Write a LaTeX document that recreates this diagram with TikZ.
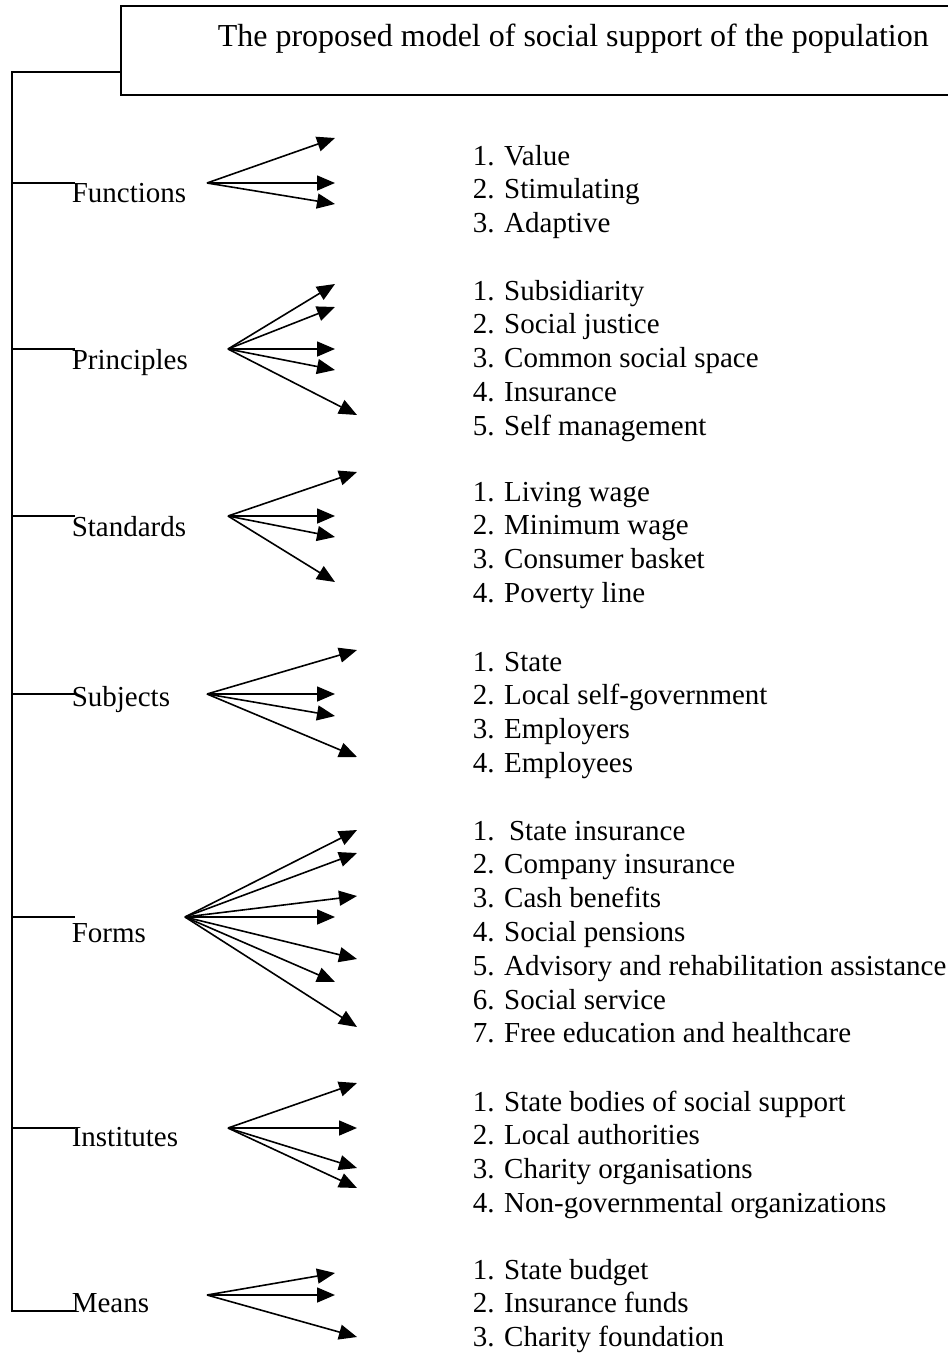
\documentclass[tikz,border=0pt]{standalone}
\usepackage{fontspec}
\setmainfont{Liberation Serif}
\usetikzlibrary{arrows.meta}
\begin{document}
\begin{tikzpicture}[x=1pt,y=-1pt,line width=1.6pt,
  arr/.style={-{Triangle[length=18pt,width=15pt]}},
  lbl/.style={anchor=base west,inner sep=0pt,font=\fontsize{29}{33.8}\selectfont},
  ttl/.style={anchor=base west,inner sep=0pt,font=\fontsize{32}{38}\selectfont}]
\path[use as bounding box] (0,0) rectangle (948,1353);
\clip (0,0) rectangle (948,1353);

% title box
\node[draw,anchor=north west,minimum width=860pt,minimum height=89pt,inner sep=0pt] (box) at (120,5) {};
\node[ttl] (title) at (217,46) {The proposed model of social support of the population};

% trunk
\coordinate (trTop) at (12,72);
\coordinate (trBot) at (12,1311);
\coordinate (bMe) at (75,1311);
\draw (box.west |- trTop) -- (trTop) -- (trBot) -- (bMe);

% branches
\foreach \n/\y in {Fu/183,Pr/349,St/516,Su/694,Fo/917,In/1128}{
  \coordinate (j\n) at (12,\y);
  \coordinate (b\n) at (75,\y);
  \draw (j\n) -- (b\n);
}

% labels
\node[lbl] (lFu) at (71,202) {Functions};
\node[lbl] (lPr) at (71,369) {Principles};
\node[lbl] (lSt) at (71,536) {Standards};
\node[lbl] (lSu) at (71,706) {Subjects};
\node[lbl] (lFo) at (71,942) {Forms};
\node[lbl] (lIn) at (71,1146) {Institutes};
\node[lbl] (lMe) at (71,1312) {Means};

% arrow fans
\coordinate (oFu) at (207,183);
\foreach \x/\y [count=\k] in {335/138,335/183,335/204}{
  \coordinate (tFu\k) at (\x,\y); \draw[arr] (oFu) -- (tFu\k);}
\coordinate (oPr) at (228,349);
\foreach \x/\y [count=\k] in {335/284,335/307,335/349,335/370,357/415}{
  \coordinate (tPr\k) at (\x,\y); \draw[arr] (oPr) -- (tPr\k);}
\coordinate (oSt) at (228,516);
\foreach \x/\y [count=\k] in {357/472,335/516,335/537,335/582}{
  \coordinate (tSt\k) at (\x,\y); \draw[arr] (oSt) -- (tSt\k);}
\coordinate (oSu) at (207,694);
\foreach \x/\y [count=\k] in {357/650,335/694,335/716,357/757}{
  \coordinate (tSu\k) at (\x,\y); \draw[arr] (oSu) -- (tSu\k);}
\coordinate (oFo) at (185,917);
\foreach \x/\y [count=\k] in {357/830,357/853,357/896,335/917,357/959,335/982,357/1027}{
  \coordinate (tFo\k) at (\x,\y); \draw[arr] (oFo) -- (tFo\k);}
\coordinate (oIn) at (228,1128);
\foreach \x/\y [count=\k] in {357/1083,357/1128,357/1168,357/1188}{
  \coordinate (tIn\k) at (\x,\y); \draw[arr] (oIn) -- (tIn\k);}
\coordinate (oMe) at (207,1295);
\foreach \x/\y [count=\k] in {335/1273,335/1295,357/1337}{
  \coordinate (tMe\k) at (\x,\y); \draw[arr] (oMe) -- (tMe\k);}

% lists
\foreach \t [count=\k] in {1. Value,2. Stimulating,3. Adaptive}
  \node[lbl] (iFu\k) at (472,{165+(\k-1)*33.8}) {\t};
\foreach \t [count=\k] in {1. Subsidiarity,2. Social justice,3. Common social space,4. Insurance,5. Self management}
  \node[lbl] (iPr\k) at (472,{300+(\k-1)*33.8}) {\t};
\foreach \t [count=\k] in {1. Living wage,2. Minimum wage,3. Consumer basket,4. Poverty line}
  \node[lbl] (iSt\k) at (472,{501+(\k-1)*33.8}) {\t};
\foreach \t [count=\k] in {1. State,2. Local self-government,3. Employers,4. Employees}
  \node[lbl] (iSu\k) at (472,{671+(\k-1)*33.8}) {\t};
\foreach \t [count=\k] in {1.\ \ State insurance,2. Company insurance,3. Cash benefits,4. Social pensions,5. Advisory and rehabilitation assistance,6. Social service,7. Free education and healthcare}
  \node[lbl] (iFo\k) at (472,{840+(\k-1)*33.8}) {\t};
\foreach \t [count=\k] in {1. State bodies of social support,2. Local authorities,3. Charity organisations,4. Non-governmental organizations}
  \node[lbl] (iIn\k) at (472,{1111+(\k-1)*33.8}) {\t};
\foreach \t [count=\k] in {1. State budget,2. Insurance funds,3. Charity foundation}
  \node[lbl] (iMe\k) at (472,{1279+(\k-1)*33.8}) {\t};
\end{tikzpicture}
\end{document}
